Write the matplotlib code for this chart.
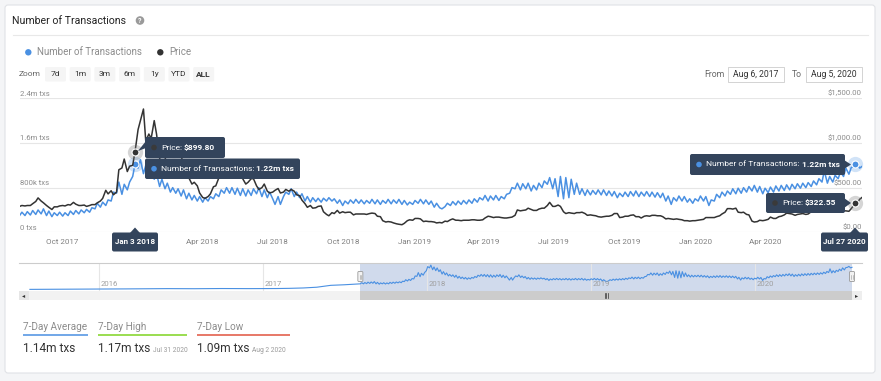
import numpy as np
import pandas as pd
import matplotlib
matplotlib.use("Agg")
import matplotlib.pyplot as plt
import matplotlib.dates as mdates
from matplotlib.patches import FancyBboxPatch, Rectangle, Circle, Polygon
from matplotlib.transforms import offset_copy

plt.rcParams['font.family'] = ['Roboto', 'DejaVu Sans']

W, H = 881, 381
BLUE, DARK, TIP = '#4a90e2', '#333333', '#33445c'
GRID, MUTED = '#e6e6e6', '#8c8c8c'

# ---------- data, Sunday / Wednesday samples ----------
start, end = "2017-08-06", "2020-08-05"

tx_k = [
    300, 360, 300, 370, 310, 390, 320, 400,                 # Aug 2017
    330, 420, 300, 380, 280, 350, 300, 360,                 # Sep
    290, 350, 300, 380, 320, 390, 330, 400, 350, 410,       # Oct
    360, 440, 420, 520, 450, 540, 480, 580,                 # Nov
    560, 720, 700, 900, 680, 860, 760, 900, 1000, 1220,     # Dec
    1150, 1300, 1050, 1200, 1000, 1150, 950, 1050,          # Jan 2018
    820, 950, 780, 880, 720, 800, 700, 780,                 # Feb
    650, 760, 600, 700, 580, 660, 560, 640,                 # Mar
    540, 620, 560, 640, 600, 690, 640, 760, 700, 800,       # Apr
    700, 800, 680, 790, 660, 780, 650, 760,                 # May
    660, 780, 690, 800, 640, 760, 620, 720,                 # Jun
    600, 500, 640, 500, 640, 720, 680, 780, 640, 720,       # Jul
    620, 690, 560, 640, 540, 620, 550, 610,                 # Aug
    540, 610, 560, 620, 560, 600, 520, 580, 480, 560,       # Sep
    510, 580, 520, 590, 520, 580, 510, 570,                 # Oct
    520, 590, 510, 580, 500, 570, 520, 590,                 # Nov
    510, 580, 520, 590, 500, 570, 490, 540, 500, 570,       # Dec
    520, 590, 510, 580, 500, 560, 450, 520,                 # Jan 2019
    440, 420, 460, 520, 480, 550, 490, 560,                 # Feb
    500, 570, 510, 580, 520, 600, 540, 620, 580, 660,       # Mar
    560, 650, 580, 660, 570, 640, 600, 680,                 # Apr
    700, 800, 780, 880, 760, 870, 780, 880,                 # May
    740, 840, 760, 880, 800, 920, 860, 980, 780, 960,       # Jun
    640, 1000, 600, 980, 620, 950, 680, 880,                # Jul
    680, 780, 660, 760, 670, 750, 680, 760,                 # Aug
    670, 760, 660, 740, 650, 730, 620, 700, 640, 720,       # Sep
    640, 730, 650, 740, 640, 720, 650, 730,                 # Oct
    640, 720, 630, 710, 620, 700, 560, 650,                 # Nov
    500, 620, 560, 650, 560, 640, 540, 600, 520, 600,       # Dec
    560, 650, 560, 640, 480, 580, 560, 680,                 # Jan 2020
    620, 720, 650, 740, 680, 780, 690, 790,                 # Feb
    700, 800, 720, 820, 740, 840, 720, 820, 690, 790,       # Mar
    710, 810, 720, 830, 740, 840, 750, 850,                 # Apr
    760, 860, 780, 870, 790, 880, 800, 890, 820, 920,       # May
    850, 960, 900, 1100, 880, 1000, 900, 1020,              # Jun
    960, 1080, 1000, 1150, 1040, 1160, 1180, 1230,          # Jul
    1150, 1180,                                             # Aug 2020
]

price_usd = [
    290, 300, 295, 300, 300, 320, 345, 385,                 # Aug 2017
    350, 330, 300, 280, 255, 285, 285, 295,                 # Sep
    300, 295, 310, 305, 335, 315, 300, 300, 305, 290,       # Oct
    300, 310, 310, 330, 350, 380, 470, 430,                 # Nov
    465, 420, 450, 700, 720, 820, 680, 740, 750, 900,       # Dec
    1150, 1250, 1380, 1020, 1100, 1050, 1250, 1100,         # Jan 2018
    830, 760, 810, 920, 920, 840, 840, 860,                 # Feb
    860, 750, 720, 610, 540, 560, 520, 440,                 # Mar
    390, 380, 400, 430, 510, 520, 610, 620, 680, 670,       # Apr
    790, 750, 730, 700, 720, 600, 540, 560,                 # May
    600, 600, 520, 480, 500, 540, 460, 440,                 # Jun
    450, 470, 490, 440, 450, 480, 460, 480, 460, 420,       # Jul
    410, 360, 320, 280, 300, 270, 275, 290,                 # Aug
    295, 230, 200, 185, 220, 210, 245, 215, 230, 220,       # Sep
    225, 225, 195, 205, 205, 205, 205, 200,                 # Oct
    210, 215, 210, 180, 175, 130, 115, 120,                 # Nov
    115, 105, 95, 90, 85, 100, 130, 140, 135, 155,          # Dec
    155, 150, 120, 125, 120, 120, 115, 105,                 # Jan 2019
    110, 105, 125, 120, 140, 150, 135, 135,                 # Feb
    130, 135, 135, 135, 140, 140, 135, 135, 140, 160,       # Mar
    180, 175, 165, 170, 170, 165, 160, 160,                 # Apr
    165, 170, 190, 250, 240, 245, 250, 270,                 # May
    255, 245, 245, 260, 270, 270, 300, 335, 290, 290,       # Jun
    305, 290, 230, 210, 220, 215, 210, 220,                 # Jul
    220, 225, 210, 190, 195, 190, 185, 175,                 # Aug
    170, 175, 180, 180, 190, 210, 210, 165, 170, 180,       # Sep
    180, 190, 195, 175, 175, 160, 180, 185,                 # Oct
    180, 190, 190, 185, 185, 175, 150, 155,                 # Nov
    150, 145, 150, 145, 140, 130, 130, 125, 130, 130,       # Dec
    135, 140, 145, 165, 165, 165, 165, 175,                 # Jan 2020
    185, 205, 225, 265, 265, 260, 270, 225,                 # Feb
    220, 225, 200, 195, 125, 115, 120, 135, 130, 135,       # Mar
    145, 170, 155, 155, 175, 180, 195, 215,                 # Apr
    210, 205, 190, 200, 205, 210, 200, 205, 230, 245,       # May
    245, 240, 235, 230, 230, 235, 225, 230,                 # Jun
    230, 245, 240, 240, 235, 265, 310, 318,                 # Jul
    370, 390,                                               # Aug 2020
]

dates = pd.date_range(start, end, freq="W-SUN").union(pd.date_range(start, end, freq="W-WED"))
assert len(dates) == len(tx_k) == len(price_usd), (len(dates), len(tx_k), len(price_usd))
tx = np.array(tx_k) * 1000.0

# navigator history before the selected range (monthly, k txs)
nav_early_months = pd.date_range("2015-08-01", "2017-07-01", freq="MS")
nav_early_k = [5, 8, 10, 10, 12,
               15, 20, 30, 35, 40, 45, 40, 40, 45, 50, 45, 45,
               45, 50, 60, 80, 120, 220, 250]

hover_dates = pd.to_datetime(["2018-01-03", "2020-07-27"])
hover_tx = [1.22e6, 1.22e6]
hover_price = [899.80, 322.55]

tx_ticks = [0, 800e3, 1.6e6, 2.4e6]
tx_tick_labels = ["0 txs", "800k txs", "1.6m txs", "2.4m txs"]
price_ticks = [0, 500, 1000, 1500]
price_tick_labels = ["$0.00", "$500.00", "$1,000.00", "$1,500.00"]
x_ticks = pd.to_datetime(["2017-10-01", "2018-04-01", "2018-07-01", "2018-10-01", "2019-01-01",
                          "2019-04-01", "2019-07-01", "2019-10-01", "2020-01-01", "2020-04-01"])
nav_years = pd.to_datetime(["2016-01-01", "2017-01-01", "2018-01-01", "2019-01-01", "2020-01-01"])

stat_names = ["7-Day Average", "7-Day High", "7-Day Low"]
stat_values = ["1.14m txs", "1.17m txs", "1.09m txs"]
stat_dates = ["", "Jul 31 2020", "Aug 2 2020"]
stat_colors = [BLUE, '#7ed321', '#e0533f']
zoom_buttons = ["7d", "1m", "3m", "6m", "1y", "YTD", "ALL"]

# ---------- figure ----------
fig = plt.figure(figsize=(W / 100, H / 100), dpi=100, facecolor='#f4f5f7')

def rect(x0, y0, x1, y1):  # pixel box (top-left origin) -> figure fraction
    return [x0 / W, 1 - y1 / H, (x1 - x0) / W, (y1 - y0) / H]

def pixel_axes():
    a = fig.add_axes([0, 0, 1, 1])
    a.set_xlim(0, W); a.set_ylim(H, 0); a.axis('off')
    return a

bg = pixel_axes()
bg.add_patch(FancyBboxPatch((5, 5), 870, 368, boxstyle="round,pad=0,rounding_size=3",
                            fc='white', ec='#e0e2e6', lw=0.8))

# main chart
ax = fig.add_axes(rect(19.6, 98.3, 862, 232.3))
ax.patch.set_alpha(0)
ax.plot(dates, tx, color=BLUE, lw=1.1)
ax.set_xlim(pd.Timestamp(start), pd.Timestamp(end))
ax.set_ylim(0, 2.4e6)
ax.set_yticks(tx_ticks)
ax.set_yticklabels([])
ax.grid(axis='y', color=GRID, lw=0.8)
ax.set_xticks(x_ticks)
ax.set_xticklabels([d.strftime('%b %Y') for d in x_ticks])
ax.tick_params(axis='y', length=0)
ax.tick_params(axis='x', length=0, pad=4.5, labelsize=5.8, labelcolor='#808080')
for s in ax.spines.values():
    s.set_visible(False)
for v, lbl in zip(tx_ticks, tx_tick_labels):
    ax.annotate(lbl, (0, v), xycoords=ax.get_yaxis_transform(), xytext=(0.5, 1.2),
                textcoords='offset points', fontsize=5.6, color=MUTED, ha='left', va='bottom')
ax.plot(hover_dates, hover_tx, 'o', ms=11, color=BLUE, alpha=0.25, mec='none', clip_on=False)
ax.plot(hover_dates, hover_tx, 'o', ms=5, color=BLUE, mec='white', mew=0.8, clip_on=False)

ax2 = ax.twinx()
ax2.plot(dates, price_usd, color=DARK, lw=1.1)
ax2.set_ylim(0, 1500)
ax2.set_yticks([])
for s in ax2.spines.values():
    s.set_visible(False)
for v, lbl in zip(price_ticks, price_tick_labels):
    ax2.annotate(lbl, (1, v), xycoords=ax2.get_yaxis_transform(), xytext=(0, 1.2),
                 textcoords='offset points', fontsize=5.6, color=MUTED, ha='right', va='bottom')
ax2.plot(hover_dates, hover_price, 'o', ms=11, color='#777777', alpha=0.3, mec='none', clip_on=False)
ax2.plot(hover_dates, hover_price, 'o', ms=5, color=DARK, mec='white', mew=0.8, clip_on=False)

# navigator
nav = fig.add_axes(rect(19, 263, 862, 290.5))
nav_dates = nav_early_months.append(dates)
nav_vals = np.concatenate([np.array(nav_early_k) * 1000.0, tx])
nav_first = pd.Timestamp("2015-07-30")
pad = pd.Timedelta(days=10 * (pd.Timestamp(end) - nav_first).days / 823)
nav.set_xlim(nav_first - pad, pd.Timestamp(end) + pad)
nav.set_ylim(-55e3, 1.41e6)
for yr in nav_years:
    nav.axvline(yr, color=GRID, lw=0.8)
    nav.text(yr, 0.22, str(yr.year), transform=offset_copy(nav.get_xaxis_transform(), fig, x=2, units='dots'),
             fontsize=5.6, color='#a0a0a0', va='center')
nav.axvspan(pd.Timestamp(start), pd.Timestamp(end), color='#6685c2', alpha=0.3, lw=0)
nav.plot(nav_dates, nav_vals, color=BLUE, lw=0.8)
nav.set_xticks([]); nav.set_yticks([])
for k, s in nav.spines.items():
    s.set_visible(k == 'top')
nav.spines['top'].set_color('#cccccc')
nav.spines['top'].set_linewidth(0.8)

# scrollbar
sb = fig.add_axes(rect(19, 290.5, 862, 299.5))
sb.set_facecolor('#f2f2f2')
sb.set_xlim(nav.get_xlim())
sb.axvspan(pd.Timestamp(start), pd.Timestamp(end), color='#cccccc', lw=0)
sb.set_xticks([]); sb.set_yticks([])
for s in sb.spines.values():
    s.set_visible(False)

# ---------- overlay: chrome, tooltips, stats ----------
ov = pixel_axes()
r = fig.canvas.get_renderer()

def nav_px(d):
    return nav.transData.transform((mdates.date2num(pd.Timestamp(d)), 0))[0]

m0, m1 = nav_px(start), nav_px(end)
ov.add_patch(Rectangle((19, 290.5), 10, 9, fc='#e6e6e6', ec='none'))
ov.add_patch(Rectangle((852, 290.5), 10, 9, fc='#eeeeee', ec='none'))
ov.text(24, 295.2, '◂', fontsize=4.5, ha='center', va='center', color='#333333', family='DejaVu Sans')
ov.text(857, 295.2, '▸', fontsize=4.5, ha='center', va='center', color='#333333', family='DejaVu Sans')
mc = (m0 + m1) / 2
for dx in (-1.5, 0, 1.5):
    ov.plot([mc + dx, mc + dx], [293, 297.5], color='#333333', lw=0.5)
for mx in (m0, m1):
    ov.add_patch(FancyBboxPatch((mx - 2.5, 271.5), 5, 10, boxstyle="round,pad=0,rounding_size=1",
                                fc='#f2f2f2', ec='#999999', lw=0.6))
    for dx in (-0.8, 0.8):
        ov.plot([mx + dx, mx + dx], [274.5, 278.5], color='#999999', lw=0.4)

# title & legend
ov.text(12, 20.5, "Number of Transactions", fontsize=7.6, color='#222222', va='center')
ov.add_patch(Circle((140, 20.5), 4.3, fc='#9a9a9a', ec='none'))
ov.text(140, 20.7, "?", fontsize=5, color='white', weight='bold', ha='center', va='center')
ov.plot([13, 868], [35, 35], color='#e8e8e8', lw=0.8)
ov.add_patch(Circle((28.3, 52.3), 3.2, fc=BLUE, ec='none'))
ov.text(37, 52.3, "Number of Transactions", fontsize=7.0, color=MUTED, va='center')
ov.add_patch(Circle((160.3, 52.3), 3.2, fc=DARK, ec='none'))
ov.text(169, 52.3, "Price", fontsize=7.0, color=MUTED, va='center')

# zoom buttons
ov.text(19, 74.3, "Zoom", fontsize=6.0, color='#666666', va='center')
bx = 45
for lbl in zoom_buttons:
    ov.add_patch(FancyBboxPatch((bx, 67), 21, 14.5, boxstyle="round,pad=0,rounding_size=1.5",
                                fc='#f5f5f5', ec='none'))
    ov.text(bx + 10.5, 74.3, lbl, fontsize=6.0, color='#333333', ha='center', va='center',
            weight='bold' if lbl == 'ALL' else 'normal')
    bx += 24.7

# date range inputs
ov.text(704, 74.5, "From", fontsize=6.2, color='#666666', va='center')
ov.text(792, 74.5, "To", fontsize=6.2, color='#666666', va='center')
for x0, lbl in ((728, "Aug 6, 2017"), (806, "Aug 5, 2020")):
    ov.add_patch(Rectangle((x0, 67), 56, 15, fc='white', ec='#cccccc', lw=0.6))
    ov.text(x0 + 28, 74.5, lbl, fontsize=6.2, color='#333333', ha='center', va='center')

# tooltips
def tooltip(x0, y0, x1, y1, dot, label, value, pointer=None):
    ov.add_patch(FancyBboxPatch((x0, y0), x1 - x0, y1 - y0, boxstyle="round,pad=0,rounding_size=2",
                                fc=TIP, ec='none'))
    if pointer:
        ov.add_patch(Polygon(pointer, closed=True, fc=TIP, ec='none'))
    ym = (y0 + y1) / 2
    ov.add_patch(Circle((x0 + 9, ym), 2.8, fc=dot, ec='none'))
    t = ov.text(x0 + 16, ym, label, fontsize=6.0, color='white', va='center')
    w = t.get_window_extent(r).width
    ov.text(x0 + 18 + w, ym, value, fontsize=6.0, color='white', weight='bold', va='center')

def date_tag(x0, x1, xp, label):
    ov.add_patch(FancyBboxPatch((x0, 232.5), x1 - x0, 19, boxstyle="round,pad=0,rounding_size=2",
                                fc=TIP, ec='none'))
    ov.add_patch(Polygon([(xp - 5, 233), (xp, 227.5), (xp + 5, 233)], closed=True, fc=TIP, ec='none'))
    ov.text((x0 + x1) / 2, 242, label, fontsize=5.8, color='white', weight='bold', ha='center', va='center')

tooltip(145, 137, 225, 158, '#3a3a3a', "Price:", "$899.80", [(146, 141), (138, 151), (146, 148)])
tooltip(145, 158.5, 300, 179, BLUE, "Number of Transactions:", "1.22m txs")
tooltip(690, 154, 845, 175, BLUE, "Number of Transactions:", "1.22m txs", [(844, 160), (851, 164.5), (844, 169)])
tooltip(766, 193, 845, 213, '#3a3a3a', "Price:", "$322.55", [(844, 198), (851, 203), (844, 208)])
date_tag(112, 158, 135, "Jan 3 2018")
date_tag(821, 868, 855, "Jul 27 2020")

# 7-day stats
for x0, x1, name, val, dt, col in zip((23, 98, 197), (88, 187, 290), stat_names, stat_values, stat_dates, stat_colors):
    ov.text(x0, 327, name, fontsize=7.2, color=MUTED, va='center')
    ov.plot([x0 - 0.5, x1], [335, 335], color=col, lw=1.1, solid_capstyle='butt')
    t = ov.text(x0, 352, val, fontsize=8.6, color='#333333', va='baseline')
    if dt:
        w = t.get_window_extent(r).width
        ov.text(x0 + w + 3, 352, dt, fontsize=4.8, color='#999999', va='baseline')

fig.savefig("out.png", dpi=100, facecolor=fig.get_facecolor())
